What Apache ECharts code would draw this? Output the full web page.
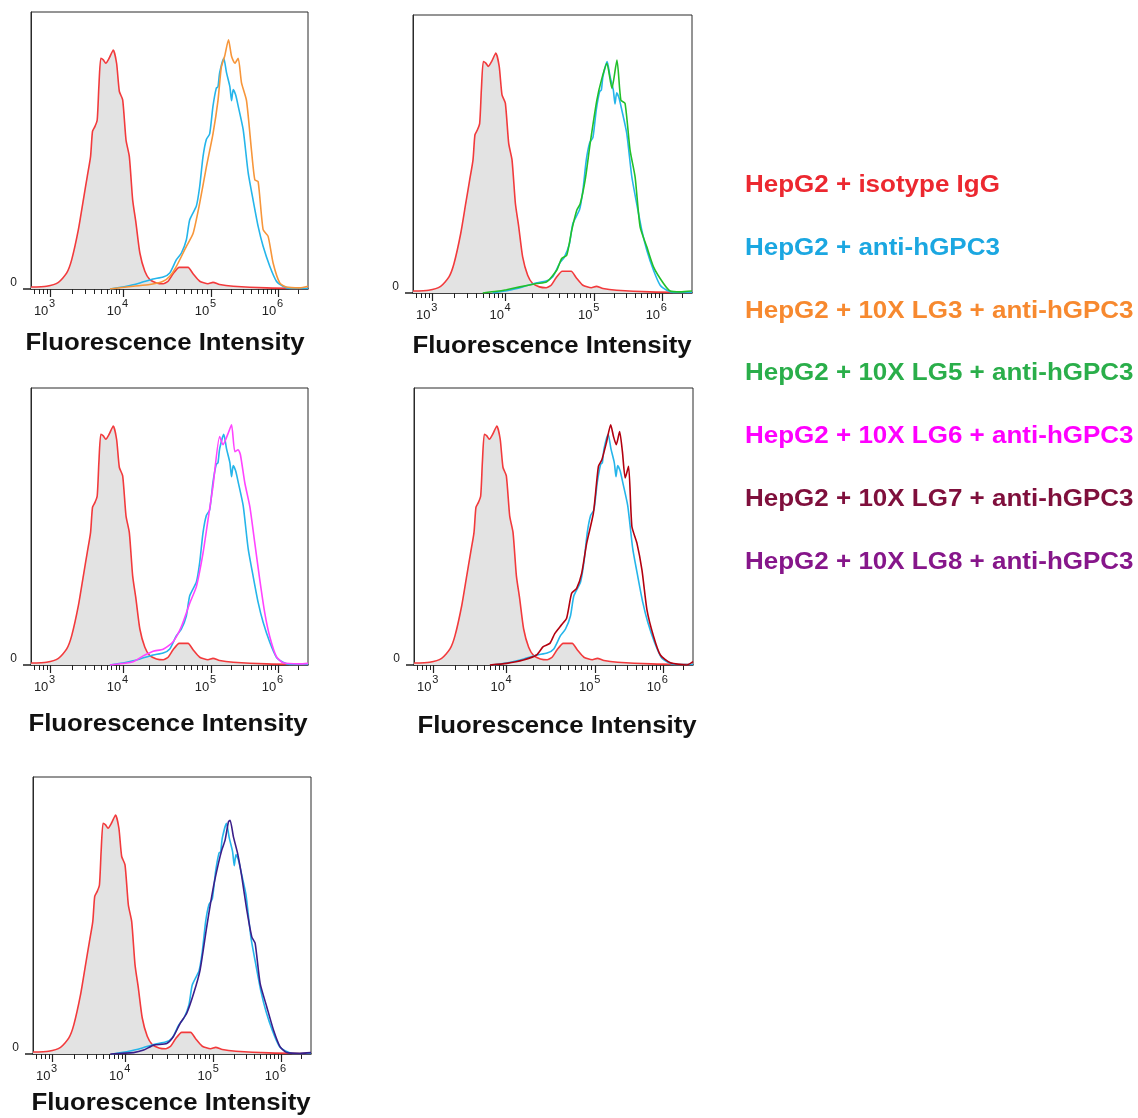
<!DOCTYPE html>
<html><head><meta charset="utf-8">
<script src="https://cdn.jsdelivr.net/npm/echarts@6/dist/echarts.min.js"></script>
<style>html,body{margin:0;padding:0;background:#fff}#c{width:1138px;height:1118px}</style>
</head><body><div id="c"></div>
<script>
// ---- data (x = display channel 0..1000 of the transformed fluorescence axis, y = % of max count) ----
const legendLabels = [
  'HepG2 + isotype IgG',
  'HepG2 + anti-hGPC3',
  'HepG2 + 10X LG3 + anti-hGPC3',
  'HepG2 + 10X LG5 + anti-hGPC3',
  'HepG2 + 10X LG6 + anti-hGPC3',
  'HepG2 + 10X LG7 + anti-hGPC3',
  'HepG2 + 10X LG8 + anti-hGPC3'
];
const axisTitle = 'Fluorescence Intensity';
const tickChannels = [69, 332, 650, 892];
const tickExponents = ['3', '4', '5', '6'];
const zeroLabel = '0';

const isotypeCh  = [0, 56, 99, 129, 147, 171, 189, 203, 215, 222, 231, 239, 245, 252, 261, 270, 282, 297, 309, 319, 331, 343, 355, 367, 379, 393, 411, 429, 453, 477, 495, 513, 535, 567, 585, 609, 639, 657, 681, 730, 850, 1000];
const isotypeVal = [0.7, 1, 2.4, 5.8, 10.6, 21.4, 32.2, 40.6, 47.8, 56.9, 58.7, 61, 73, 83.3, 82.7, 81.5, 83.3, 86.3, 81.5, 71.3, 68.3, 53.8, 47.8, 32.2, 23.8, 13, 6.4, 3.4, 2.2, 1.9, 2.8, 5.5, 7.8, 7.8, 5.5, 2.8, 1.9, 2.4, 1.6, 1, 0.4, 0.2];

const antiCh  = [285, 345, 393, 441, 477, 501, 525, 543, 561, 573, 597, 609, 621, 633, 645, 657, 669, 675, 681, 696, 706, 718, 724, 730, 739, 748, 766, 784, 802, 820, 838, 862, 886, 910, 934, 1000];
const antiVal = [0, 1, 2.2, 3.6, 4.3, 5.8, 10.6, 13, 17.8, 25, 30, 37, 47.8, 54, 56, 66, 72.5, 73, 78, 83.3, 78, 73, 68, 72, 70, 66, 57.5, 42, 32, 22.6, 15.4, 8.2, 2.8, 1, 0.2, 0.2];

const lg3Ch  = [285, 369, 429, 477, 501, 525, 561, 585, 609, 633, 657, 675, 687, 699, 713, 724, 736, 748, 760, 778, 796, 808, 820, 838, 856, 874, 898, 922, 970, 1000];
const lg3Val = [0, 1, 1.6, 2.8, 4.6, 8.2, 15.4, 20, 31, 44, 56, 68, 80, 84, 90, 84, 81.5, 83.3, 74.4, 68, 50, 39.4, 38.8, 21.4, 19, 9.4, 2.2, 0.7, 0.4, 1];

const lg5Ch  = [250, 300, 335, 383, 443, 479, 515, 533, 551, 569, 587, 599, 617, 635, 659, 677, 695, 713, 731, 745, 760, 778, 796, 814, 838, 862, 898, 922, 958, 1000];
const lg5Val = [0, 0.6, 1.2, 2.2, 3.4, 4, 8.2, 12.4, 13.6, 22.6, 29.8, 32, 40.6, 53.8, 69.4, 77.2, 82.6, 73.6, 83.8, 69.4, 68.2, 51.4, 41.8, 23.8, 16.6, 9.4, 3.4, 0.7, 0.4, 0.7];

const lg6Ch  = [285, 369, 405, 441, 477, 513, 543, 573, 597, 621, 639, 657, 681, 693, 712, 724, 736, 748, 756, 772, 790, 808, 826, 844, 862, 886, 910, 970, 1000];
const lg6Val = [0, 1.2, 3.3, 5, 5.7, 8.4, 13.9, 22.3, 28.3, 40.4, 52.4, 64.5, 82.5, 79.5, 83.7, 86.7, 77, 77.7, 75.9, 65.7, 57.2, 44, 30.7, 18.7, 10.2, 3, 0.8, 0.4, 0.6];

const lg7Ch  = [272, 332, 392, 439, 463, 487, 505, 529, 547, 565, 583, 601, 619, 643, 661, 673, 689, 705, 715, 725, 737, 747, 757, 769, 781, 799, 817, 835, 859, 883, 919, 978, 1000];
const lg7Val = [0, 0.6, 1.8, 3.6, 6.6, 7.8, 11.4, 14.5, 16.9, 25.9, 27.7, 33.1, 44, 54.8, 71.7, 74, 80, 86.7, 82.5, 79.5, 84.3, 77, 67.5, 71.7, 50, 44, 34.3, 19.9, 10.2, 3.6, 0.8, 0, 1.2];

const lg8Ch  = [278, 362, 398, 434, 481, 505, 529, 553, 578, 601, 625, 649, 667, 679, 691, 703, 709, 721, 736, 751, 769, 787, 799, 817, 841, 865, 889, 913, 960, 1000];
const lg8Val = [0, 0.5, 1.4, 3.2, 3.8, 6.3, 11, 14.7, 21.9, 30.3, 46, 60.3, 68.8, 73.6, 77.2, 83.8, 84.4, 78.4, 72.4, 64, 52, 42.3, 40, 25.5, 17, 8.7, 2.6, 0.5, 0.2, 0.5];

// ---- styling / layout ----
const textColors = ['#ec2830', '#1ba7e1', '#f7892f', '#2aae4a', '#ff00ff', '#7f0f3c', '#86168a'];
const lineColors = ['#f23a3c', '#25b5ea', '#f7963a', '#22c02a', '#ff44ff', '#b3000f', '#3b1e8a'];
const FONT = "'Liberation Sans', Arial, sans-serif";

const panelExtra = [
  {ch: lg3Ch, val: lg3Val, k: 2},
  {ch: lg5Ch, val: lg5Val, k: 3},
  {ch: lg6Ch, val: lg6Val, k: 4},
  {ch: lg7Ch, val: lg7Val, k: 5},
  {ch: lg8Ch, val: lg8Val, k: 6}
];
const gridPos = [
  {left: 31, top: 12, width: 277, height: 277},
  {left: 413, top: 15, width: 279, height: 278},
  {left: 31, top: 388, width: 277, height: 277},
  {left: 414, top: 388, width: 279, height: 277},
  {left: 33, top: 777, width: 278, height: 277}
];
const titlePos = [[165, 344], [552, 347], [168, 725], [557, 727], [171, 1104]];
const legendY = [185, 248, 311, 373, 436, 499, 562];

function pairs(ch, val) { return ch.map((c, i) => [c, val[i]]); }

function minorTickChannels() {
  const m = tickChannels, out = [];
  for (let i = 0; i < m.length - 1; i++) {
    for (let k = 2; k <= 9; k++) out.push(m[i] + Math.log10(k) * (m[i + 1] - m[i]));
  }
  const w0 = m[1] - m[0];
  for (let k = 2; k <= 9; k++) { const v = m[0] - (1 - Math.log10(k)) * w0; if (v >= 0) out.push(v); }
  const wl = m[m.length - 1] - m[m.length - 2];
  for (let k = 2; k <= 9; k++) { const v = m[m.length - 1] + Math.log10(k) * wl; if (v <= 1000) out.push(v); }
  return out;
}
const minors = minorTickChannels();

function expLabel(v) {
  let best = 0;
  tickChannels.forEach((c, j) => { if (Math.abs(c - v) < Math.abs(tickChannels[best] - v)) best = j; });
  return '{s|' + tickExponents[best] + '}\n{a|10}';
}

const grid = [], xAxis = [], yAxis = [], series = [], graphic = [];
gridPos.forEach((g, i) => {
  grid.push(Object.assign({show: true, borderColor: '#2a2a2a', borderWidth: 1, backgroundColor: '#fff'}, g));
  xAxis.push({
    type: 'value', gridIndex: i, min: 0, max: 1000, position: 'bottom',
    axisLine: {show: true, onZero: false, lineStyle: {color: '#222', width: 1.5}},
    axisTick: {show: true, customValues: tickChannels, length: 8, lineStyle: {color: '#222', width: 1.2}},
    splitLine: {show: false},
    axisLabel: {
      show: true, customValues: tickChannels, margin: 13, align: 'center', verticalAlign: 'top',
      formatter: expLabel,
      rich: {
        s: {fontSize: 11, fontFamily: FONT, color: '#222', lineHeight: 4, padding: [0, 11, 0, 15]},
        a: {fontSize: 13, fontFamily: FONT, color: '#222', lineHeight: 11, padding: [0, 18, 0, 0]}
      }
    }
  });
  xAxis.push({
    type: 'value', gridIndex: i, min: 0, max: 1000, position: 'bottom',
    axisLine: {show: false, onZero: false},
    axisTick: {show: true, customValues: minors, length: 5, lineStyle: {color: '#222', width: 1}},
    axisLabel: {show: false},
    splitLine: {show: false}
  });
  yAxis.push({
    type: 'value', gridIndex: i, min: 0, max: 100, position: 'left',
    axisLine: {show: true, onZero: false, lineStyle: {color: '#2a2a2a', width: 1}},
    axisTick: {show: true, customValues: [0], length: 8, lineStyle: {color: '#222', width: 1.5}},
    axisLabel: {show: true, customValues: [0], formatter: () => zeroLabel, margin: 14, verticalAlign: 'bottom',
      fontSize: 12, fontFamily: FONT, color: '#222'},
    splitLine: {show: false}
  });
  series.push({
    name: legendLabels[0], type: 'line', xAxisIndex: 2 * i, yAxisIndex: i,
    data: pairs(isotypeCh, isotypeVal), showSymbol: false, smooth: 0.2,
    lineStyle: {color: lineColors[0], width: 1.6},
    areaStyle: {color: '#e3e3e3', opacity: 1}, z: 2
  });
  series.push({
    name: legendLabels[1], type: 'line', xAxisIndex: 2 * i, yAxisIndex: i,
    data: pairs(antiCh, antiVal), showSymbol: false, smooth: 0.2,
    lineStyle: {color: lineColors[1], width: 1.6}, z: 3
  });
  const e = panelExtra[i];
  series.push({
    name: legendLabels[e.k], type: 'line', xAxisIndex: 2 * i, yAxisIndex: i,
    data: pairs(e.ch, e.val), showSymbol: false, smooth: 0.2,
    lineStyle: {color: lineColors[e.k], width: 1.6}, z: 4
  });
  graphic.push({
    type: 'text', x: titlePos[i][0], y: titlePos[i][1], scaleX: 1.12,
    style: {text: axisTitle, font: 'bold 23px ' + FONT, fill: '#111', textAlign: 'center', textVerticalAlign: 'middle'}
  });
});
legendLabels.forEach((t, k) => {
  graphic.push({
    type: 'text', x: 745, y: legendY[k] + 1, scaleX: 1.13,
    style: {text: t, font: 'bold 23px ' + FONT, fill: textColors[k], textAlign: 'left', textVerticalAlign: 'middle'}
  });
});

const chart = echarts.init(document.getElementById('c'), null, {renderer: 'canvas'});
chart.setOption({animation: false, backgroundColor: '#fff', grid, xAxis, yAxis, series, graphic});
</script></body></html>
